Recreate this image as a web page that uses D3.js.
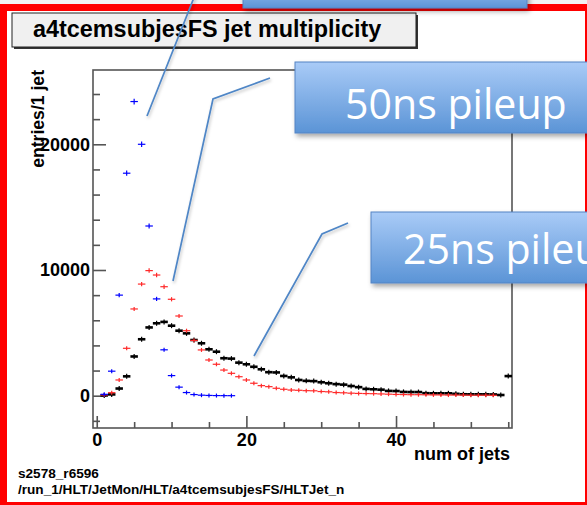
<!DOCTYPE html>
<html>
<head>
<meta charset="utf-8">
<script src="https://cdn.jsdelivr.net/npm/d3@7"></script>
<style>
body { margin: 0; background: #fff; overflow: hidden; }
svg { display: block; }
</style>
</head>
<body>
<script>
// entries per 1-jet bin, index = number of jets (0,1,2,...)
var blackCounts = [0, 20, 100, 570, 1540, 3120, 4490, 5430, 5760, 5870,
                   5570, 5170, 4960, 4430, 4170, 3690, 3500, 2980, 2950, 2630,
                   2500, 2300, 2100, 1870, 1850, 1570, 1460, 1250, 1180, 1160,
                   1070, 990, 920, 880, 770, 680, 540, 510, 480, 380,
                   370, 300, 290, 290, 200, 190, 190, 190, 150, 115,
                   110, 110, 110, 100, 55, 1560];
var redCounts = [0, 60, 240, 1250, 3770, 6900, 8880, 9950, 9600, 8670,
                 7670, 6340, 5170, 4400, 3640, 2840, 2500, 2040, 1780, 1510,
                 1250, 990, 800, 720, 590, 510, 450, 430, 400, 390,
                 330, 310, 250, 230, 200, 180, 170, 160, 140, 120,
                 100, 90, 80, 80, 70, 60, 60, 50, 50, 50,
                 40, 40, 40, 30];
var blueCounts = [0, 110, 1950, 8000, 17700, 23400, 20000, 13500, 7700, 3650,
                  1600, 680, 250, 90, 40, 20, 10, 5, 2];

var xMajorTicks = [0, 20, 40];
var xMinorTicks = [5, 10, 15, 25, 30, 35, 45, 50, 55];
var yMajorTicks = [0, 10000, 20000];
var yMinorTicks = [-2000, 2000, 4000, 6000, 8000, 12000, 14000, 16000, 18000, 22000, 24000];

var WIDTH = 587, HEIGHT = 505;
var FONT = "'Liberation Sans', Arial, Helvetica, sans-serif";

var svg = d3.select("body").append("svg")
        .attr("width", WIDTH)
        .attr("height", HEIGHT);

var defs = svg.append("defs");
var grad = defs.append("linearGradient")
        .attr("id", "boxGrad")
        .attr("x1", 0).attr("y1", 0).attr("x2", 0).attr("y2", 1);
grad.append("stop").attr("offset", "0%").attr("stop-color", "#a9cbf7");
grad.append("stop").attr("offset", "100%").attr("stop-color", "#5b94d6");
var shadow = defs.append("filter").attr("id", "shadow")
        .attr("x", "-20%").attr("y", "-20%").attr("width", "140%").attr("height", "160%");
shadow.append("feDropShadow")
        .attr("dx", 2).attr("dy", 3).attr("stdDeviation", 2.5)
        .attr("flood-color", "#000").attr("flood-opacity", 0.35);
var lineShadow = defs.append("filter").attr("id", "lineShadow");
lineShadow.append("feDropShadow")
        .attr("dx", 1).attr("dy", 2).attr("stdDeviation", 1.5)
        .attr("flood-color", "#000").attr("flood-opacity", 0.25);

// slide background + red frame
svg.append("rect").attr("width", WIDTH).attr("height", HEIGHT).attr("fill", "#f2f2f2");
svg.append("rect").attr("x", 0).attr("y", 4).attr("width", WIDTH).attr("height", HEIGHT - 4).attr("fill", "#ff0000");
svg.append("rect").attr("x", 7).attr("y", 11).attr("width", 578).attr("height", 491).attr("fill", "#fff");

// plot frame
var frame = {left: 93, right: 512, top: 70, bottom: 428};

var x = d3.scaleLinear()
        .domain([-0.5, 55.5])
        .range([frame.left, frame.right]);
var y = d3.scaleLinear()
        .domain([-2570, 25910])
        .range([frame.bottom, frame.top]);

svg.append("rect")
        .attr("x", frame.left).attr("y", frame.top)
        .attr("width", frame.right - frame.left)
        .attr("height", frame.bottom - frame.top)
        .attr("fill", "none")
        .attr("stroke", "#555")
        .attr("stroke-width", 1.6);

function styleAxis(g) {
    g.select(".domain").remove();
    g.selectAll(".tick line").attr("stroke", "#555").attr("stroke-width", 1.6);
    g.selectAll("text")
            .attr("font-family", FONT)
            .attr("font-weight", "bold")
            .attr("font-size", "18px")
            .attr("fill", "#000");
}

svg.append("g")
        .attr("transform", "translate(0," + frame.bottom + ")")
        .call(d3.axisBottom(x).tickValues(xMinorTicks).tickSizeInner(-6).tickSizeOuter(0).tickFormat(""))
        .call(styleAxis);
svg.append("g")
        .attr("transform", "translate(0," + frame.bottom + ")")
        .call(d3.axisBottom(x).tickValues(xMajorTicks).tickSizeInner(-12).tickSizeOuter(0).tickPadding(5).tickFormat(d3.format("d")))
        .call(styleAxis);
svg.append("g")
        .attr("transform", "translate(" + frame.left + ",0)")
        .call(d3.axisLeft(y).tickValues(yMinorTicks).tickSizeInner(-7).tickSizeOuter(0).tickFormat(""))
        .call(styleAxis);
svg.append("g")
        .attr("transform", "translate(" + frame.left + ",0)")
        .call(d3.axisLeft(y).tickValues(yMajorTicks).tickSizeInner(-13).tickSizeOuter(0).tickPadding(3).tickFormat(d3.format("d")))
        .call(styleAxis);

// axis titles
svg.append("text")
        .attr("transform", "translate(44,70) rotate(-90)")
        .attr("text-anchor", "end")
        .attr("font-family", FONT).attr("font-weight", "bold").attr("font-size", "17.6px")
        .text("entries/1 jet");
svg.append("text")
        .attr("x", 510).attr("y", 460)
        .attr("text-anchor", "end")
        .attr("font-family", FONT).attr("font-weight", "bold").attr("font-size", "18px")
        .text("num of jets");

// histograms drawn as bin-width bars with sqrt(N) error ticks
function drawHist(counts, color, width, minHalf) {
    var pts = counts.map(function (v, i) { return {n: i, v: v}; })
            .filter(function (d) { return d.v > 0; });
    var grp = svg.append("g").selectAll("g")
            .data(pts)
            .enter()
            .append("g");
    grp.append("line")
            .attr("x1", function (d) { return x(d.n - 0.5); })
            .attr("x2", function (d) { return x(d.n + 0.5); })
            .attr("y1", function (d) { return y(d.v); })
            .attr("y2", function (d) { return y(d.v); })
            .attr("stroke", color)
            .attr("stroke-width", width);
    grp.append("line")
            .attr("x1", function (d) { return x(d.n); })
            .attr("x2", function (d) { return x(d.n); })
            .attr("y1", function (d) { return Math.min(y(d.v + Math.sqrt(d.v)), y(d.v) - minHalf) - 1; })
            .attr("y2", function (d) { return Math.max(y(d.v - Math.sqrt(d.v)), y(d.v) + minHalf) + 1; })
            .attr("stroke", color)
            .attr("stroke-width", 1.2);
}
drawHist(blackCounts, "#000", 2.6, 1.5);
drawHist(redCounts, "#ff2a2a", 1.2, 1);
drawHist(blueCounts, "#0000ff", 1.2, 1);

// title pave
svg.append("rect")
        .attr("x", 14).attr("y", 15).attr("width", 404).attr("height", 34)
        .attr("fill", "#333");
svg.append("rect")
        .attr("x", 12).attr("y", 13).attr("width", 404).attr("height", 34)
        .attr("fill", "#f0f0f0").attr("stroke", "#222").attr("stroke-width", 1);
svg.append("text")
        .attr("x", 33).attr("y", 37)
        .attr("font-family", FONT).attr("font-weight", "bold").attr("font-size", "23.4px")
        .text("a4tcemsubjesFS jet multiplicity");

// info text at bottom
svg.append("text")
        .attr("x", 18).attr("y", 478)
        .attr("font-family", FONT).attr("font-weight", "bold").attr("font-size", "13.6px")
        .text("s2578_r6596");
svg.append("text")
        .attr("x", 18).attr("y", 494)
        .attr("font-family", FONT).attr("font-weight", "bold").attr("font-size", "13.6px")
        .text("/run_1/HLT/JetMon/HLT/a4tcemsubjesFS/HLTJet_n");

// slide callouts
var callLine = d3.line();
var callouts = [
    [[197, -10], [147, 116]],
    [[270, 78], [213, 99], [173, 281]],
    [[348, 223], [322, 234], [254, 356]]
];
svg.append("g").selectAll("path")
        .data(callouts)
        .enter()
        .append("path")
        .attr("d", callLine)
        .attr("fill", "none")
        .attr("stroke", "#4f86c6")
        .attr("stroke-width", 1.7)
        .attr("filter", "url(#lineShadow)");

var boxes = [
    {x: 243, y: -20, w: 284, h: 28, label: "", tx: 0, ty: 0},
    {x: 295, y: 62, w: 330, h: 71, label: "50ns pileup", tx: 345, ty: 119},
    {x: 371, y: 212, w: 260, h: 71, label: "25ns pileup", tx: 403, ty: 264}
];
var bg = svg.append("g").selectAll("g")
        .data(boxes)
        .enter()
        .append("g");
bg.append("rect")
        .attr("x", function (d) { return d.x; })
        .attr("y", function (d) { return d.y; })
        .attr("width", function (d) { return d.w; })
        .attr("height", function (d) { return d.h; })
        .attr("fill", "url(#boxGrad)")
        .attr("stroke", "#5584c4")
        .attr("stroke-width", 1)
        .attr("filter", "url(#shadow)");
var labels = bg.append("text")
        .attr("x", function (d) { return d.tx; })
        .attr("y", function (d) { return d.ty; })
        .attr("font-family", "'Open Sans', Lato, sans-serif")
        .attr("font-size", "40px")
        .attr("fill", "#fff")
        .text(function (d) { return d.label; });
// fit the callout font so "50ns pileup" is about 222px wide, as on the slide
var w50 = labels.nodes()[1].getComputedTextLength();
if (w50 > 0) {
    labels.attr("font-size", (40 * 222 / w50).toFixed(1) + "px");
}
</script>
</body>
</html>
